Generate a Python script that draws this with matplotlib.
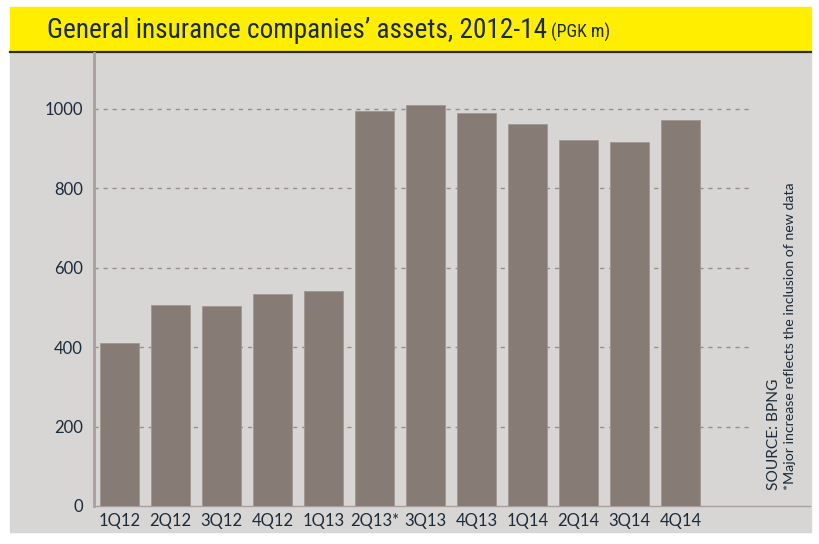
import matplotlib
matplotlib.use('Agg')
import matplotlib.pyplot as plt
from matplotlib.patches import Rectangle
from matplotlib import font_manager

quarters = ['1Q12', '2Q12', '3Q12', '4Q12', '1Q13', '2Q13*', '3Q13', '4Q13',
            '1Q14', '2Q14', '3Q14', '4Q14']
assets = [410, 506, 503, 535, 542, 996, 1009, 991, 961, 922, 917, 972]
yticks = [0, 200, 400, 600, 800, 1000]

names = set(f.name for f in font_manager.fontManager.ttflist)

def pick(cands):
    for c in cands:
        if c in names:
            return c
    return 'DejaVu Sans'

narrow = pick(['Roboto Condensed', 'Liberation Sans Narrow', 'Lato'])
body = pick(['Lato', 'Open Sans', 'Noto Sans'])
plt.rcParams['font.family'] = [body, 'DejaVu Sans']

W, H = 819, 544
fig = plt.figure(figsize=(W / 100, H / 100), dpi=100)
fig.patch.set_facecolor('white')

def fx(x):
    return x / W

def fy(y):
    return 1 - y / H

def fit(t, size, target):
    # scale font size so the text is about `target` pixels wide
    fig.canvas.draw()
    t.set_fontsize(size * target / t.get_window_extent().width)

# grey panel and yellow header
fig.patches.append(Rectangle((fx(10), fy(532)), fx(801), 480 / H,
                             transform=fig.transFigure, color='#d8d6d4', zorder=-5))
fig.patches.append(Rectangle((fx(10), fy(52)), fx(801), 45 / H,
                             transform=fig.transFigure, color='#ffee00', zorder=-5))
fig.add_artist(plt.Line2D([fx(10), fx(811)], [fy(52), fy(52)], color='#2a2a2a',
                          lw=1.6, transform=fig.transFigure, zorder=-4))

txt_col = '#1c2b3c'
title = fig.text(fx(47), fy(30), 'General insurance companies\u2019 assets, 2012-14',
                 fontsize=17, color=txt_col, va='center', ha='left', family=narrow)
fit(title, 17, 500)
unit = fig.text(fx(551), fy(32), '(PGK m)', fontsize=10, color=txt_col, va='center',
                ha='left', family=narrow)
fit(unit, 10, 59)

ax = fig.add_axes([fx(94), fy(506), fx(810 - 94), (506 - 53) / H])
ax.set_facecolor('none')
x = list(range(len(quarters)))
ax.bar(x, assets, width=0.765, color='#877b76', edgecolor='#a09692', linewidth=0.6, zorder=3)
ax.hlines(yticks[1:], -0.5, 12.36, colors='#9a8e8c', linestyles=(0, (3, 3.5)), lw=1, zorder=1)

ax.set_xlim(-0.5, 13.54)
ax.set_ylim(0, 1141)
ax.set_yticks(yticks)
ax.set_xticks(x)
ax.set_xticklabels(quarters)
ax.tick_params(axis='both', length=0, labelsize=12, colors=txt_col)
ax.tick_params(axis='y', pad=8)
ax.tick_params(axis='x', pad=5)
for s in ['top', 'right']:
    ax.spines[s].set_visible(False)
ax.spines['left'].set_color('#a99f9f')
ax.spines['left'].set_linewidth(2)
ax.spines['bottom'].set_color('#a99f9f')
ax.spines['bottom'].set_linewidth(1)

fig.text(fx(774), fy(490), 'SOURCE: BPNG', rotation=90, fontsize=11.2, color=txt_col,
         ha='center', va='bottom')
fig.text(fx(790), fy(490), '*Major increase reflects the inclusion of new data',
         rotation=90, fontsize=10.2, color=txt_col, ha='center', va='bottom')

fig.savefig('out.png', dpi=100)
